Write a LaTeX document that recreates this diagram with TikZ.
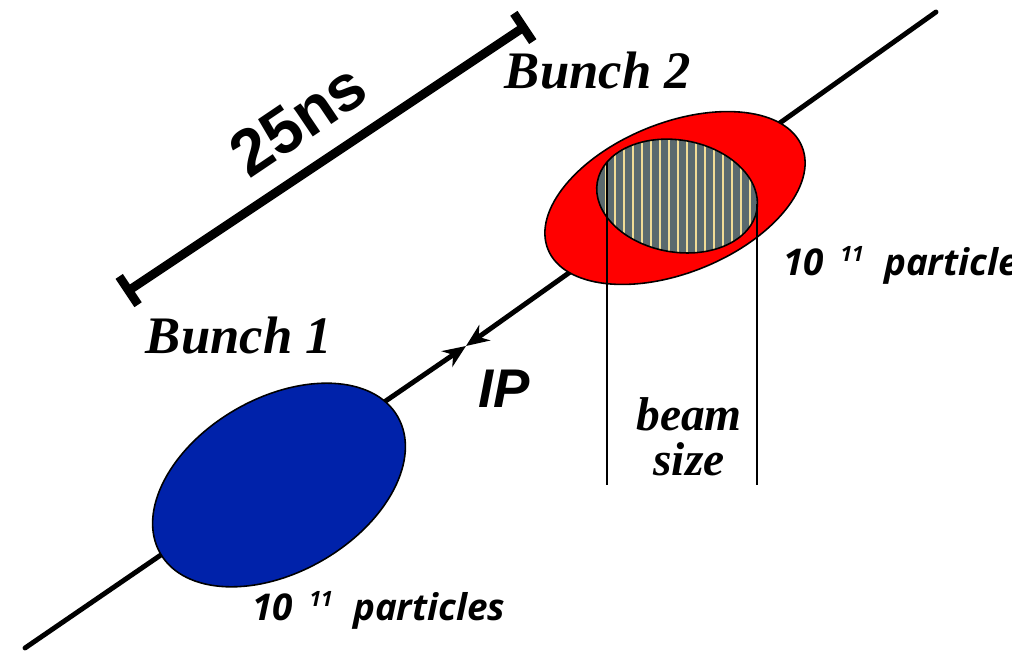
\documentclass[tikz,border=0pt]{standalone}
\usepackage{fontspec}
\usetikzlibrary{arrows.meta}
\newfontfamily\bunchfont{Liberation Serif}
\newfontfamily\arialfont{Liberation Sans}
\newfontfamily\countfont{Open Sans}
\definecolor{bunchblue}{RGB}{0,34,170}
\definecolor{bunchred}{RGB}{255,0,0}
\definecolor{overlapgray}{RGB}{90,106,110}
\definecolor{overlapyellow}{RGB}{240,220,150}
\tikzset{
	beamline/.style={line width=2.8pt, line cap=round},
	meetarrow/.style={-{Stealth[length=0.46cm,width=0.38cm]}},
	bunchedge/.style={draw=black, line width=0.9pt},
	sizeline/.style={line width=1pt},
	bunchlabel/.style={inner sep=0pt, anchor=base, font=\bunchfont\bfseries\itshape\fontsize{30}{36}\selectfont},
	widthlabel/.style={inner sep=0pt, anchor=base, font=\bunchfont\bfseries\itshape\fontsize{27}{32}\selectfont},
	countlabel/.style={inner sep=0pt, anchor=base west, font=\countfont\bfseries\itshape\fontsize{21}{25}\selectfont},
}
\newcommand{\tenpow}{10\hspace{0.45em}\raisebox{0.36em}{\fontsize{12}{14}\selectfont 11}\hspace{0.55em}particles}

\begin{document}
\begin{tikzpicture}[x=0.02cm, y=-0.02cm]
	\useasboundingbox (0,0) rectangle (1012,657);
	% beam axis, both halves meet at the IP
	\coordinate (axisstart) at (25,648);
	\coordinate (axisend) at (936,12);
	\coordinate (ip) at (466,346);
	\draw [beamline, meetarrow] (axisstart) -- (ip);
	\draw [beamline, meetarrow] (axisend) -- (ip);

	% bunches
	\coordinate (bunch1) at (279,485);
	\coordinate (bunch2) at (675,198);
	\coordinate (overlap) at (677,196);
	\filldraw [fill = bunchblue, bunchedge, rotate around = {30:(bunch1)}] (bunch1) ellipse [x radius = 137, y radius = 87];
	\filldraw [fill = bunchred, bunchedge, rotate around = {22:(bunch2)}] (bunch2) ellipse [x radius = 137, y radius = 75];
	\begin{scope}
		\clip [rotate around = {-10:(overlap)}] (overlap) ellipse [x radius = 81, y radius = 56];
		\fill [overlapgray] (590,130) rectangle (770,260);
		\foreach \x in {606,615,...,760}
			\draw [overlapyellow, line width = 0.055cm] (\x,130) -- (\x,260);
	\end{scope}

	% beam size markers
	\coordinate (sizeleft) at (607,162);
	\coordinate (sizeleftend) at (607,485);
	\coordinate (sizeright) at (757,204);
	\coordinate (sizerightend) at (757,485);
	\draw [sizeline] (sizeleft) -- (sizeleftend);
	\draw [sizeline] (sizeright) -- (sizerightend);
	\draw [bunchedge, rotate around = {-10:(overlap)}] (overlap) ellipse [x radius = 81, y radius = 56];

	% bunch spacing
	\coordinate (spacingstart) at (125,293);
	\coordinate (spacingend) at (527,25);
	\draw [line width = 5pt, {Bar[width=0.68cm]}-{Bar[width=0.68cm]}] (spacingstart) -- (spacingend);
	\node (spacinglabel) [rotate = 34, inner sep = 0pt, font = \arialfont\bfseries\fontsize{37}{44}\selectfont] at (298,120) {25ns};

	% labels
	\node (bunch1label) [bunchlabel] at (239,353) {Bunch 1};
	\node (bunch2label) [bunchlabel] at (598,88) {Bunch 2};
	\node (iplabel) [inner sep = 0pt, anchor = base west, font = \arialfont\bfseries\itshape\fontsize{31}{37}\selectfont] at (478,407) {IP};
	\node (beamlabel) [widthlabel] at (689,430) {beam};
	\node (sizelabel) [widthlabel] at (689,475) {size};
	\node (count1) [countlabel] at (252,620) {\tenpow};
	\node (count2) [countlabel] at (783,275) {\tenpow};
\end{tikzpicture}
\end{document}
